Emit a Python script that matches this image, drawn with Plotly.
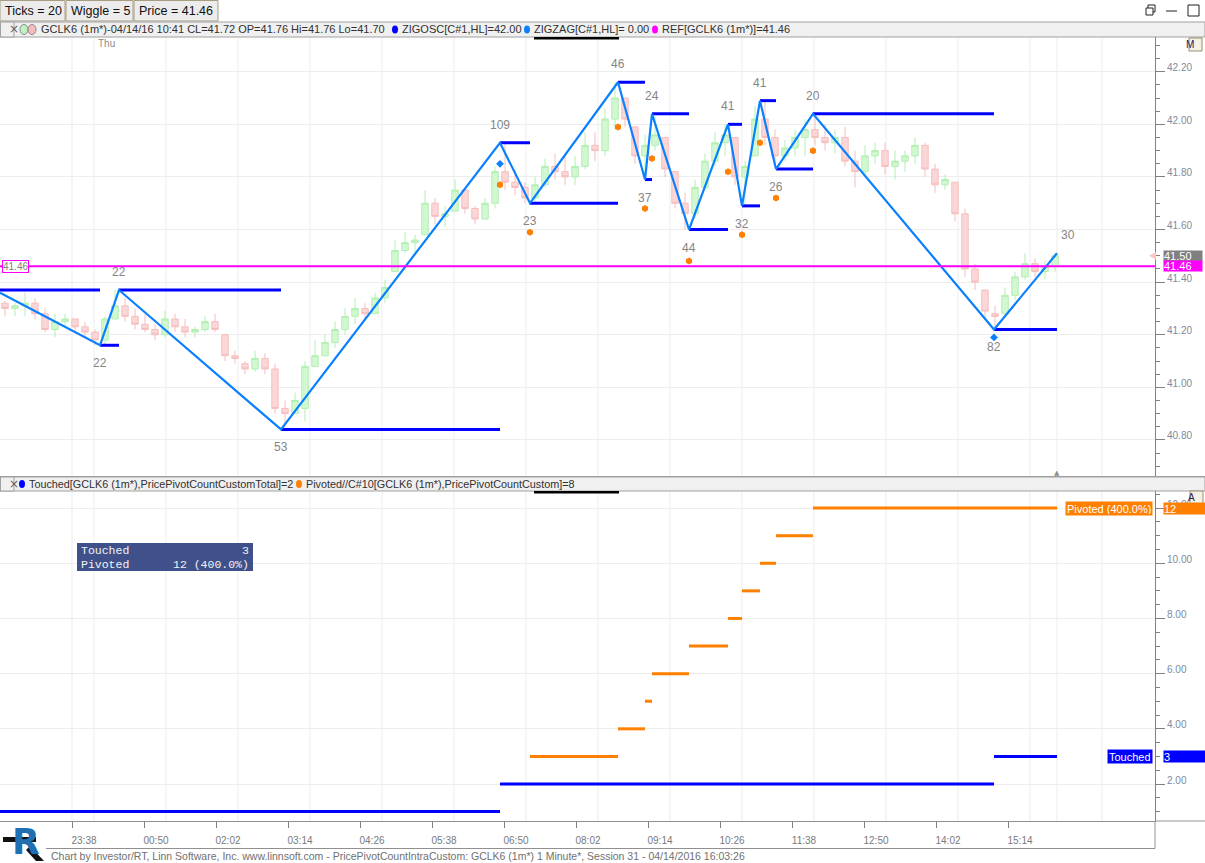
import plotly.graph_objects as go
import pandas as pd

# ---------------- data ----------------
bar_first = '2016-04-13 22:31'   # centre of first 10-minute bar
bar_open = [41.32, 41.30, 41.31, 41.32, 41.28, 41.22, 41.25, 41.26, 41.23, 41.21,
            41.18, 41.26, 41.31, 41.27, 41.24, 41.22, 41.20, 41.26, 41.23, 41.21,
            41.22, 41.25, 41.20, 41.12, 41.09, 41.07, 41.11, 41.07, 40.92, 40.90,
            40.92, 41.08, 41.12, 41.17, 41.22, 41.27, 41.30, 41.28, 41.34, 41.44,
            41.52, 41.55, 41.58, 41.70, 41.65, 41.67, 41.75, 41.68, 41.64, 41.70,
            41.82, 41.78, 41.76, 41.72, 41.77, 41.84, 41.82, 41.80, 41.84, 41.92,
            41.90, 42.02, 42.10, 41.99, 41.88, 41.92, 41.95, 41.82, 41.70, 41.66,
            41.76, 41.86, 41.93, 41.95, 41.80, 41.88, 42.02, 41.95, 41.88, 41.91,
            41.95, 41.98, 41.95, 41.93, 41.95, 41.86, 41.82, 41.88, 41.90, 41.84,
            41.86, 41.88, 41.92, 41.83, 41.77, 41.78, 41.66, 41.45, 41.37, 41.28,
            41.28, 41.35, 41.42, 41.47, 41.44, 41.46]
bar_high = [41.33, 41.32, 41.36, 41.34, 41.30, 41.28, 41.28, 41.26, 41.25, 41.22,
            41.27, 41.37, 41.34, 41.30, 41.28, 41.24, 41.29, 41.28, 41.26, 41.23,
            41.27, 41.28, 41.20, 41.14, 41.10, 41.14, 41.13, 41.09, 40.95, 40.98,
            41.10, 41.18, 41.20, 41.25, 41.30, 41.34, 41.32, 41.36, 41.41, 41.56,
            41.59, 41.58, 41.75, 41.72, 41.69, 41.79, 41.76, 41.69, 41.72, 41.84,
            41.93, 41.83, 41.78, 41.80, 41.87, 41.89, 41.88, 41.88, 41.97, 41.97,
            42.06, 42.16, 42.10, 41.99, 41.96, 42.03, 41.95, 41.82, 41.74, 41.79,
            41.89, 41.97, 42.00, 41.95, 41.86, 42.07, 42.09, 41.98, 41.94, 41.98,
            42.02, 42.03, 42.00, 41.98, 41.99, 41.90, 41.92, 41.93, 41.93, 41.90,
            41.90, 41.95, 41.93, 41.85, 41.81, 41.78, 41.68, 41.47, 41.37, 41.31,
            41.38, 41.44, 41.51, 41.49, 41.48, 41.51]
bar_low = [41.27, 41.27, 41.27, 41.26, 41.21, 41.19, 41.23, 41.21, 41.19, 41.16,
           41.16, 41.26, 41.25, 41.22, 41.21, 41.18, 41.19, 41.21, 41.19, 41.19,
           41.21, 41.21, 41.10, 41.09, 41.05, 41.06, 41.05, 40.90, 40.84, 40.90,
           40.87, 41.08, 41.12, 41.15, 41.20, 41.24, 41.26, 41.28, 41.32, 41.44,
           41.51, 41.51, 41.58, 41.62, 41.61, 41.67, 41.66, 41.62, 41.64, 41.68,
           41.75, 41.73, 41.70, 41.70, 41.76, 41.79, 41.77, 41.77, 41.83, 41.86,
           41.88, 41.98, 41.99, 41.85, 41.79, 41.90, 41.80, 41.68, 41.60, 41.64,
           41.75, 41.84, 41.88, 41.77, 41.69, 41.88, 41.92, 41.84, 41.86, 41.88,
           41.88, 41.92, 41.90, 41.89, 41.84, 41.76, 41.81, 41.85, 41.81, 41.79,
           41.82, 41.85, 41.80, 41.74, 41.75, 41.63, 41.42, 41.37, 41.26, 41.22,
           41.28, 41.33, 41.41, 41.42, 41.41, 41.44]
bar_close = [41.30, 41.31, 41.32, 41.28, 41.22, 41.25, 41.26, 41.23, 41.21, 41.18,
             41.26, 41.31, 41.27, 41.24, 41.22, 41.20, 41.26, 41.23, 41.21, 41.22,
             41.25, 41.22, 41.12, 41.11, 41.07, 41.11, 41.07, 40.92, 40.90, 40.95,
             41.08, 41.12, 41.17, 41.22, 41.27, 41.30, 41.28, 41.34, 41.38, 41.52,
             41.55, 41.56, 41.70, 41.65, 41.66, 41.75, 41.68, 41.64, 41.70, 41.82,
             41.78, 41.76, 41.72, 41.77, 41.84, 41.82, 41.80, 41.84, 41.92, 41.90,
             42.02, 42.10, 42.02, 41.88, 41.92, 41.96, 41.83, 41.70, 41.66, 41.76,
             41.86, 41.93, 41.96, 41.80, 41.84, 42.02, 41.95, 41.88, 41.91, 41.95,
             41.98, 41.95, 41.93, 41.95, 41.86, 41.82, 41.88, 41.90, 41.84, 41.86,
             41.88, 41.92, 41.83, 41.77, 41.79, 41.66, 41.45, 41.40, 41.29, 41.27,
             41.35, 41.42, 41.47, 41.44, 41.46, 41.50]

pivot_times = ['2016-04-13 22:26', '2016-04-14 00:06', '2016-04-14 00:25', '2016-04-14 03:07',
               '2016-04-14 06:46', '2016-04-14 07:16', '2016-04-14 08:44', '2016-04-14 09:11',
               '2016-04-14 09:18', '2016-04-14 09:55', '2016-04-14 10:34', '2016-04-14 10:48',
               '2016-04-14 11:06', '2016-04-14 11:22', '2016-04-14 11:59', '2016-04-14 15:00',
               '2016-04-14 16:03']
pivot_prices = [41.36, 41.16, 41.37, 40.84, 41.93, 41.70, 42.16, 41.79, 42.04,
                41.60, 42.00, 41.69, 42.09, 41.83, 42.04, 41.22, 41.51]
pivot_counts = [None, 22, 22, 53, 109, 23, 46, 37, 24, 44, 41, 32, 41, 26, 20, 82, 30]
prior_level = 41.37

pivoted_dot_times = ['2016-04-14 06:46', '2016-04-14 07:16', '2016-04-14 08:44', '2016-04-14 09:11',
                     '2016-04-14 09:18', '2016-04-14 09:55', '2016-04-14 10:34', '2016-04-14 10:48',
                     '2016-04-14 11:06', '2016-04-14 11:22', '2016-04-14 11:59']
pivoted_dot_prices = [41.77, 41.59, 41.99, 41.68, 41.87, 41.48, 41.82, 41.58, 41.93, 41.72, 41.90]
touched_dot_times = ['2016-04-14 06:46', '2016-04-14 15:00']
touched_dot_prices = [41.85, 41.19]

ref_price = 41.46
last_price = 41.50

touched_edges = ['2016-04-13 22:26', '2016-04-14 06:46', '2016-04-14 15:00', '2016-04-14 16:03']
touched_values = [1, 2, 3]
pivoted_edges = ['2016-04-14 07:16', '2016-04-14 08:44', '2016-04-14 09:11', '2016-04-14 09:18',
                 '2016-04-14 09:55', '2016-04-14 10:34', '2016-04-14 10:48', '2016-04-14 11:06',
                 '2016-04-14 11:22', '2016-04-14 11:59', '2016-04-14 16:03']
pivoted_values = [3, 4, 5, 6, 7, 8, 9, 10, 11, 12]

x_range = ['2016-04-13 22:26', '2016-04-14 17:41']
tick_start = '2016-04-13 23:38'
tick_end = '2016-04-14 16:03'
grid_times = ['2016-04-13 23:38'] + [str(t) for t in pd.date_range('2016-04-14 00:00', '2016-04-14 17:00', freq='72min')] + ['2016-04-14 16:03']

# ---------------- layout helpers (pixels -> paper) ----------------
W, HF = 1205, 863
MT, MB = 37, 42
PH = HF - MT - MB
def PX(x):
    return x / W
def PY(y):
    return (HF - MB - y) / PH

FONT = 'Liberation Sans'
BLUE = '#0000ff'
ZZ = '#0a80ff'
ORANGE = '#ff8000'
MAG = '#ff00ff'

fig = go.Figure()

bar_times = pd.date_range(bar_first, periods=len(bar_close), freq='10min')
fig.add_trace(go.Candlestick(
    x=bar_times, open=bar_open, high=bar_high, low=bar_low, close=bar_close,
    increasing=dict(line=dict(color='#b2eeb2', width=1), fillcolor='#d2f8d2'),
    decreasing=dict(line=dict(color='#f5bebe', width=1), fillcolor='#fbd6d6'),
    whiskerwidth=0, xaxis='x', yaxis='y', showlegend=False, hoverinfo='skip'))

# pivot level lines
lx, ly = [pivot_times[0], pivot_times[1], None], [prior_level, prior_level, None]
for i in range(1, len(pivot_times) - 1):
    lx += [pivot_times[i], pivot_times[i + 1], None]
    ly += [pivot_prices[i], pivot_prices[i], None]
fig.add_trace(go.Scatter(x=lx, y=ly, mode='lines', line=dict(color=BLUE, width=3),
                         xaxis='x', yaxis='y', showlegend=False, hoverinfo='skip'))
# zigzag
fig.add_trace(go.Scatter(x=pivot_times, y=pivot_prices, mode='lines',
                         line=dict(color=ZZ, width=2.2), xaxis='x', yaxis='y',
                         showlegend=False, hoverinfo='skip'))
# dots
fig.add_trace(go.Scatter(x=pivoted_dot_times, y=pivoted_dot_prices, mode='markers',
                         marker=dict(symbol='hexagon', size=7, color=ORANGE),
                         xaxis='x', yaxis='y', showlegend=False, hoverinfo='skip'))
fig.add_trace(go.Scatter(x=touched_dot_times, y=touched_dot_prices, mode='markers',
                         marker=dict(symbol='diamond', size=6, color=ZZ),
                         xaxis='x', yaxis='y', showlegend=False, hoverinfo='skip'))

# lower panel step segments
tx, ty = [], []
for i, v in enumerate(touched_values):
    tx += [touched_edges[i], touched_edges[i + 1], None]
    ty += [v, v, None]
px_, py_ = [], []
for i, v in enumerate(pivoted_values):
    px_ += [pivoted_edges[i], pivoted_edges[i + 1], None]
    py_ += [v, v, None]
fig.add_trace(go.Scatter(x=tx, y=ty, mode='lines', line=dict(color=BLUE, width=3),
                         xaxis='x', yaxis='y2', showlegend=False, hoverinfo='skip'))
fig.add_trace(go.Scatter(x=px_, y=py_, mode='lines', line=dict(color=ORANGE, width=3),
                         xaxis='x', yaxis='y2', showlegend=False, hoverinfo='skip'))

shapes = []
ann = []

# vertical grid lines
for t in grid_times:
    shapes.append(dict(type='line', xref='x', yref='paper', x0=t, x1=t, y0=0, y1=1,
                       line=dict(color='#ededed', width=1), layer='below'))
# REF line
shapes.append(dict(type='line', xref='paper', yref='y', x0=0, x1=PX(1155), y0=ref_price, y1=ref_price,
                   line=dict(color=MAG, width=2), layer='above'))

# pivot count labels
for i in range(1, len(pivot_times)):
    up = pivot_prices[i] > pivot_prices[i - 1]
    ann.append(dict(x=pivot_times[i], y=pivot_prices[i], xref='x', yref='y', text=str(pivot_counts[i]),
                    showarrow=False, yshift=18 if up else -18, yanchor='middle',
                    xshift=11 if i == len(pivot_times) - 1 else 0,
                    font=dict(family=FONT, size=12, color='#858585')))

# ---- top toolbar ----
for (x0, x1, label) in [(0, 65, 'Ticks = 20'), (66, 133, 'Wiggle = 5'), (134, 218, 'Price = 41.46')]:
    shapes.append(dict(type='rect', xref='paper', yref='paper', x0=PX(x0), x1=PX(x1), y0=PY(21), y1=PY(0.5),
                       fillcolor='#ececec', line=dict(color='#a89c80', width=1)))
    ann.append(dict(xref='paper', yref='paper', x=PX(x0 + 3), y=PY(11), text=label, showarrow=False,
                    xanchor='left', yanchor='middle', font=dict(family=FONT, size=12.5, color='#101010')))
# window icons
shapes += [
    dict(type='rect', xref='paper', yref='paper', x0=PX(1146), x1=PX(1153), y0=PY(15), y1=PY(8),
         line=dict(color='#202020', width=1)),
    dict(type='path', xref='paper', yref='paper',
         path=f'M {PX(1148)} {PY(8)} L {PX(1148)} {PY(5)} L {PX(1155)} {PY(5)} L {PX(1155)} {PY(12)} L {PX(1153)} {PY(12)}',
         line=dict(color='#202020', width=1)),
    dict(type='line', xref='paper', yref='paper', x0=PX(1166), x1=PX(1177), y0=PY(11), y1=PY(11),
         line=dict(color='#202020', width=1)),
    dict(type='rect', xref='paper', yref='paper', x0=PX(1188), x1=PX(1199), y0=PY(16), y1=PY(5),
         line=dict(color='#202020', width=1)),
]

# ---- header bars ----
def header(y0, y1):
    shapes.append(dict(type='rect', xref='paper', yref='paper', x0=0, x1=1, y0=PY(y1), y1=PY(y0),
                       fillcolor='#f0f0f0', line=dict(color='#a0a0a0', width=1)))
    shapes.append(dict(type='rect', xref='paper', yref='paper', x0=PX(0.5), x1=PX(14), y0=PY(y1), y1=PY(y0),
                       fillcolor='#f0f0f0', line=dict(color='#a0a0a0', width=1)))
    ann.append(dict(xref='paper', yref='paper', x=PX(7), y=PY((y0 + y1) / 2), text='×', showarrow=False,
                    yanchor='middle', font=dict(family='DejaVu Sans', size=12, color='#606060')))
    shapes.append(dict(type='rect', xref='paper', yref='paper', x0=PX(534), x1=PX(619), y0=PY(y1 + 2.5), y1=PY(y1),
                       fillcolor='#000000', line=dict(width=0)))

def dot(x, yc, color):
    shapes.append(dict(type='circle', xref='paper', yref='paper', x0=PX(x - 3), x1=PX(x + 3),
                       y0=PY(yc + 4), y1=PY(yc - 4), fillcolor=color, line=dict(color=color, width=0)))

def htext(x, yc, s, size=11):
    ann.append(dict(xref='paper', yref='paper', x=PX(x), y=PY(yc), text=s, showarrow=False,
                    xanchor='left', yanchor='middle', font=dict(family=FONT, size=size, color='#303030')))

header(22, 37)
yc = 29.5
shapes.append(dict(type='circle', xref='paper', yref='paper', x0=PX(20), x1=PX(28), y0=PY(yc + 5), y1=PY(yc - 5),
                   fillcolor='#bff2bf', line=dict(color='#8a8a8a', width=1)))
shapes.append(dict(type='circle', xref='paper', yref='paper', x0=PX(28), x1=PX(36), y0=PY(yc + 5), y1=PY(yc - 5),
                   fillcolor='#f6bcbc', line=dict(color='#8a8a8a', width=1)))
htext(39, yc, 'GCLK6 (1m*)-04/14/16 10:41 CL=41.72 OP=41.76 Hi=41.76 Lo=41.70')
dot(395, yc, BLUE)
htext(400, yc, 'ZIGOSC[C#1,HL]=42.00')
dot(527, yc, ZZ)
htext(532, yc, 'ZIGZAG[C#1,HL]= 0.00')
dot(655, yc, MAG)
htext(660, yc, 'REF[GCLK6 (1m*)]=41.46')

header(477, 491)
yc = 484
dot(22, yc, BLUE)
htext(27, yc, 'Touched[GCLK6 (1m*),PricePivotCountCustomTotal]=2', 10.8)
dot(299, yc, ORANGE)
htext(304, yc, 'Pivoted//C#10[GCLK6 (1m*),PricePivotCountCustom]=8', 10.8)

# panel separator
shapes.append(dict(type='line', xref='paper', yref='paper', x0=0, x1=1, y0=PY(476.5), y1=PY(476.5),
                   line=dict(color='#a0a0a0', width=1)))

# M / A boxes
for (x0, y0, s) in [(1189, 38, 'M'), (1190, 491, 'A')]:
    shapes.append(dict(type='rect', xref='paper', yref='paper', x0=PX(x0), x1=PX(x0 + 13), y0=PY(y0 + 13), y1=PY(y0),
                       fillcolor='#f4f1e6', line=dict(color='#9a8e70', width=1)))
    ann.append(dict(xref='paper', yref='paper', x=PX(x0 + 6.5), y=PY(y0 + 6.5), text=s, showarrow=False,
                    yanchor='middle', font=dict(family=FONT, size=10, color='#202060')))

# "Thu"
ann.append(dict(xref='paper', yref='paper', x=PX(96), y=PY(44), text='Thu', showarrow=False,
                xanchor='left', yanchor='middle', font=dict(family=FONT, size=10, color='#8c8c8c')))

# price axis value boxes
ann.append(dict(xref='paper', yref='y', x=PX(1163), y=last_price, text='41.50', showarrow=False,
                xanchor='left', yanchor='middle', bgcolor='#808080', width=38, height=10, align='left',
                borderpad=0, font=dict(family=FONT, size=11, color='white')))
ann.append(dict(xref='paper', yref='y', x=PX(1163), y=ref_price, text='41.46', showarrow=False,
                xanchor='left', yanchor='middle', bgcolor=MAG, width=38, height=10, align='left',
                borderpad=0, font=dict(family=FONT, size=11, color='white')))
ann.append(dict(xref='paper', yref='y', x=PX(1.5), y=ref_price, text='41.46', showarrow=False,
                xanchor='left', yanchor='middle', bgcolor='white', bordercolor=MAG, borderwidth=1,
                borderpad=0, font=dict(family=FONT, size=10, color='#808080')))
shapes.append(dict(type='path', xref='paper', yref='y',
                   path=f'M {PX(1149)} {last_price} L {PX(1156)} {last_price + 0.015} L {PX(1156)} {last_price - 0.015} Z',
                   fillcolor='#ffc4c4', line=dict(width=0)))
# small current-bar marker at bottom of price panel
ann.append(dict(xref='x', yref='paper', x=pivot_times[-1], y=PY(473), text='▲', showarrow=False,
                yanchor='middle', font=dict(family='DejaVu Sans', size=7, color='#909090')))

# lower panel value boxes
ann.append(dict(xref='paper', yref='y2', x=PX(1163), y=pivoted_values[-1], text='12', showarrow=False,
                xanchor='left', yanchor='middle', bgcolor=ORANGE, width=42, height=11, align='left',
                borderpad=0, font=dict(family=FONT, size=11, color='white')))
ann.append(dict(xref='paper', yref='y2', x=PX(1163), y=touched_values[-1], text='3', showarrow=False,
                xanchor='left', yanchor='middle', bgcolor=BLUE, width=42, height=11, align='left',
                borderpad=0, font=dict(family=FONT, size=11, color='white')))
ann.append(dict(xref='paper', yref='y2', x=PX(1153), y=pivoted_values[-1], text='Pivoted (400.0%)', showarrow=False,
                xanchor='right', yanchor='middle', bgcolor=ORANGE, height=11, borderpad=1,
                font=dict(family=FONT, size=11, color='white')))
ann.append(dict(xref='paper', yref='y2', x=PX(1153), y=touched_values[-1], text='Touched', showarrow=False,
                xanchor='right', yanchor='middle', bgcolor=BLUE, height=11, borderpad=1,
                font=dict(family=FONT, size=11, color='white')))

# summary table
shapes.append(dict(type='rect', xref='paper', yref='paper', x0=PX(77), x1=PX(253), y0=PY(571), y1=PY(543),
                   fillcolor='#3f508a', line=dict(width=0)))
MONO = 'Liberation Mono'
for (yy, left, right) in [(550, 'Touched', str(touched_values[-1])),
                          (564, 'Pivoted', f'{pivoted_values[-1]} (400.0%)')]:
    ann.append(dict(xref='paper', yref='paper', x=PX(79), y=PY(yy), text=left, showarrow=False,
                    xanchor='left', yanchor='middle', font=dict(family=MONO, size=11.5, color='#f4f4f4')))
    ann.append(dict(xref='paper', yref='paper', x=PX(251), y=PY(yy), text=right, showarrow=False,
                    xanchor='right', yanchor='middle', font=dict(family=MONO, size=11.5, color='#f4f4f4')))

# x-axis area frame
shapes += [
    dict(type='line', xref='paper', yref='paper', x0=PX(46), x1=PX(1155), y0=PY(848.5), y1=PY(848.5),
         line=dict(color='#909090', width=1)),
    dict(type='line', xref='paper', yref='paper', x0=PX(1155), x1=PX(1155), y0=PY(848.5), y1=PY(821),
         line=dict(color='#909090', width=1)),
    dict(type='line', xref='paper', yref='paper', x0=PX(1155), x1=1, y0=PY(821), y1=PY(821),
         line=dict(color='#909090', width=1)),
]

# footer + logo
ann.append(dict(xref='paper', yref='paper', x=PX(49), y=PY(856), text='Chart by Investor/RT, Linn Software, Inc. www.linnsoft.com - PricePivotCountIntraCustom: GCLK6 (1m*) 1 Minute*, Session 31 - 04/14/2016 16:03:26',
                showarrow=False, xanchor='left', yanchor='middle', font=dict(family=FONT, size=10.5, color='#707070')))
shapes.append(dict(type='path', xref='paper', yref='paper',
                   path=f'M {PX(30)} {PY(846)} L {PX(44)} {PY(861)} L {PX(36)} {PY(861)} L {PX(26)} {PY(850)} Z',
                   fillcolor='#111111', line=dict(width=0)))
ann.append(dict(xref='paper', yref='paper', x=PX(10), y=PY(841), text='<b>R</b>', showarrow=False,
                xanchor='left', yanchor='middle', font=dict(family='DejaVu Sans', size=36, color='#1f6fb2')))
shapes.append(dict(type='rect', xref='paper', yref='paper', x0=PX(3), x1=PX(36), y0=PY(842), y1=PY(837),
                   fillcolor='#111111', line=dict(width=0), layer='above'))

tickvals = list(pd.date_range(tick_start, tick_end, freq='72min'))
fig.update_layout(
    width=W, height=HF,
    margin=dict(l=0, r=0, t=MT, b=MB),
    paper_bgcolor='white', plot_bgcolor='white',
    showlegend=False, boxgap=0.08,
    font=dict(family=FONT, size=11, color='#404040'),
    xaxis=dict(domain=[0, PX(1155)], anchor='y2', type='date', range=x_range,
               tickvals=tickvals, ticktext=[t.strftime('%H:%M') for t in tickvals],
               ticks='outside', ticklen=6, tickcolor='#808080', showgrid=False, zeroline=False,
               showline=True, linecolor='#909090', rangeslider=dict(visible=False),
               ticklabelshift=12, ticklabelstandoff=4,
               tickfont=dict(family=FONT, size=10, color='#7a7a7a')),
    yaxis=dict(domain=[PY(476), 1], anchor='x', side='right', range=[40.663, 42.332],
               tick0=40, dtick=0.2, tickformat='.2f', ticks='outside', ticklen=9, tickcolor='#808080',
               showline=True, linecolor='#808080', showgrid=True, gridcolor='#ededed', zeroline=False,
               minor=dict(tick0=40, dtick=0.05, ticks='outside', ticklen=4, tickcolor='#808080', showgrid=False),
               ticklabelshift=-4, tickfont=dict(family=FONT, size=10, color='#7d8aa0')),
    yaxis2=dict(domain=[0, PY(491)], anchor='x', side='right', range=[0.659, 12.62],
                tick0=0, dtick=2, tickformat='.2f', ticks='outside', ticklen=9, tickcolor='#808080',
                showline=True, linecolor='#808080', showgrid=True, gridcolor='#ededed', zeroline=False,
                minor=dict(tick0=0, dtick=0.5, ticks='outside', ticklen=4, tickcolor='#808080', showgrid=False),
                ticklabelshift=-4, tickfont=dict(family=FONT, size=10, color='#7d8aa0')),
    shapes=shapes, annotations=ann,
)

fig.write_html('out.html', config={'displayModeBar': False},
               post_script="document.body.style.margin='0';document.body.style.overflow='hidden';")
